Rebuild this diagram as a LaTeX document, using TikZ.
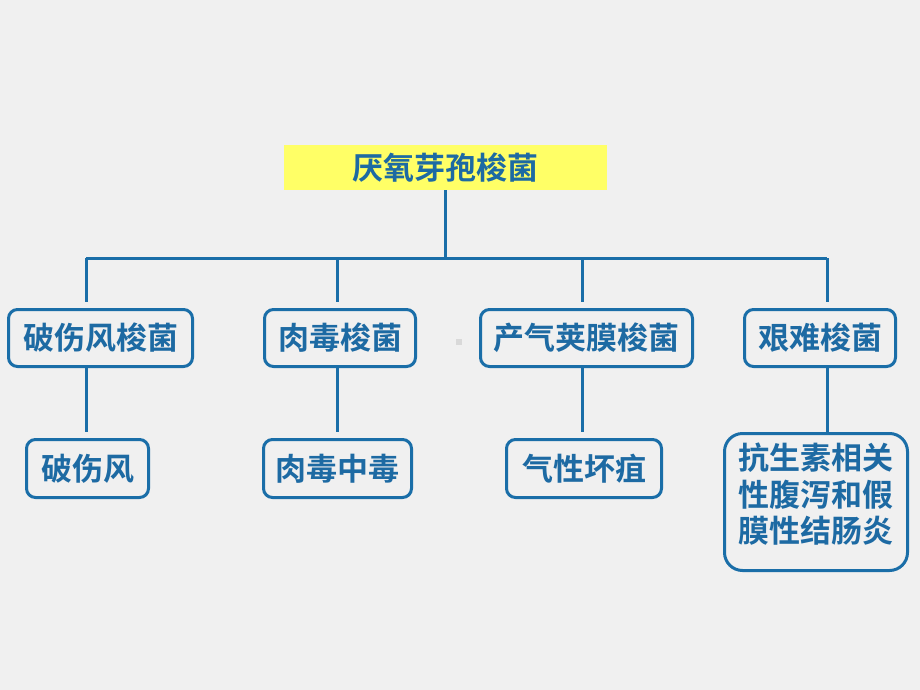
\documentclass[tikz,border=0pt]{standalone}
\usepackage{fontspec}
\newfontfamily\cjk{Noto Sans CJK SC}[BoldFont={Noto Sans CJK SC Bold}]
\usepackage{tikz}
\usetikzlibrary{positioning}
\definecolor{bg}{HTML}{F0F0F0}
\definecolor{lineblue}{HTML}{1A6EA8}
\definecolor{textblue}{HTML}{1D6AA3}
\definecolor{hilite}{HTML}{FFFF66}
\tikzstyle{root} = [rectangle, minimum width=323pt, minimum height=45pt, text centered, fill=hilite, inner sep=0pt]
\tikzstyle{genus} = [rectangle, rounded corners=9pt, minimum height=57pt, text centered, draw=lineblue, line width=3pt, inner sep=0pt]
\tikzstyle{disease} = [rectangle, rounded corners=9pt, minimum height=58pt, text centered, draw=lineblue, line width=3pt, inner sep=0pt]
\tikzstyle{link} = [lineblue, line width=3pt]

\begin{document}
\begin{tikzpicture}[x=1pt, y=-1pt, font=\cjk\bfseries\fontsize{31}{36.5}\selectfont, text=textblue]

  \fill[bg] (0,0) rectangle (920,690);
  \useasboundingbox (0,0) rectangle (920,690);

  \node (top) [root] at (445.5,167.5) {厌氧芽孢梭菌};

  \node (tet) [genus, minimum width=184pt] at (100.5,338) {破伤风梭菌};
  \node (bot) [genus, minimum width=151pt] at (340,338) {肉毒梭菌};
  \node (perf) [genus, minimum width=212pt] at (586.5,338) {产气荚膜梭菌};
  \node (diff) [genus, minimum width=151pt] at (820,338) {艰难梭菌};

  \node (tetd) [disease, minimum width=122pt] at (87.5,468.5) {破伤风};
  \node (botd) [disease, minimum width=148pt] at (337.5,468.5) {肉毒中毒};
  \node (perfd) [disease, minimum width=155pt] at (584,468.5) {气性坏疽};
  \node (diffd) [disease, rounded corners=18pt, minimum width=183pt, minimum height=137pt, align=center] at (816,502) {抗生素相关\\性腹泻和假\\膜性结肠炎\\[-18pt]\mbox{}};

  % bus
  \coordinate (busl) at (86,258);
  \coordinate (busr) at (827,258);
  \coordinate (bus2) at (337,258);
  \coordinate (bus3) at (582,258);

  \draw [link] (top.south) -- (top.south |- busl);
  \draw [link] (busl) -- (busr);
  \draw [link, shorten >=6pt] (busl) -- (busl |- tet.north);
  \draw [link, shorten >=6pt] (bus2) -- (bus2 |- bot.north);
  \draw [link, shorten >=6pt] (bus3) -- (bus3 |- perf.north);
  \draw [link, shorten >=6pt] (busr) -- (busr |- diff.north);

  \draw [link, shorten >=6pt] (busl |- tet.south) -- (busl |- tetd.north);
  \draw [link, shorten >=6pt] (bus2 |- bot.south) -- (bus2 |- botd.north);
  \draw [link, shorten >=6pt] (bus3 |- perf.south) -- (bus3 |- perfd.north);
  \draw [link] (busr |- diff.south) -- (busr |- diffd.north);

  \fill[black!15] (456,339) rectangle (462,345);

\end{tikzpicture}
\end{document}
